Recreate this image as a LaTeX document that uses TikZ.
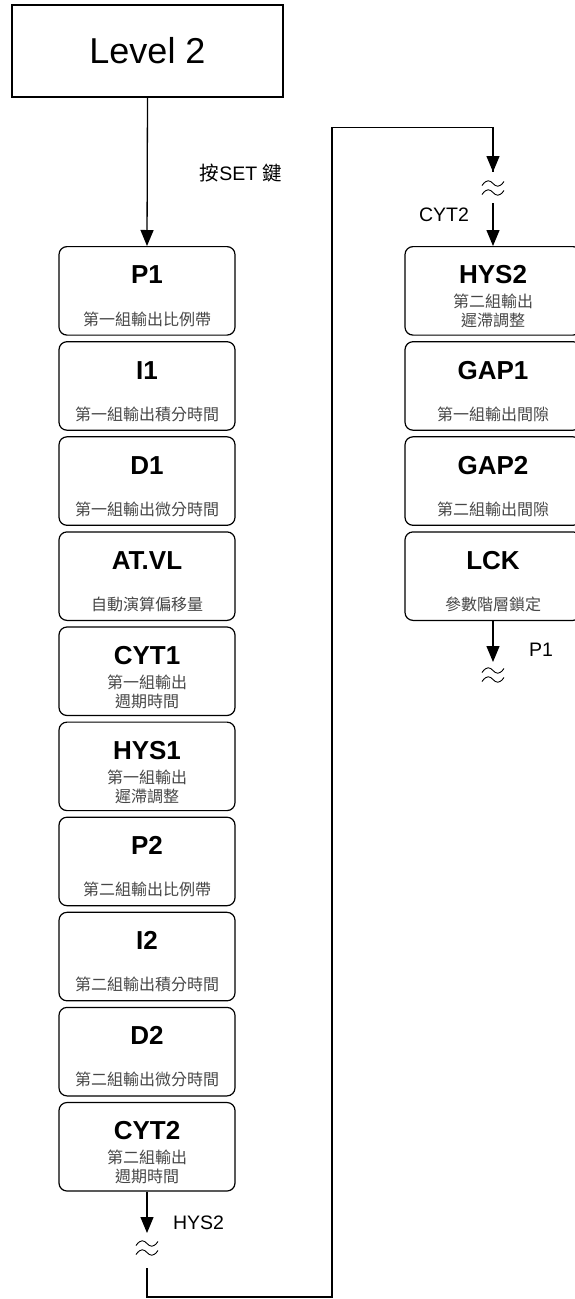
\documentclass[tikz,border=0pt]{standalone}
\usepackage{fontspec}
\setmainfont{Liberation Sans}
\newfontfamily\cjk{Noto Sans CJK TC}
\usetikzlibrary{arrows.meta}
\definecolor{subgray}{RGB}{70,70,70}
\tikzset{
  box/.style={draw, rounded corners=8pt, line width=1.2pt, minimum width=176pt, minimum height=88.5pt, anchor=north, inner sep=0pt},
  ttl/.style={font=\fontsize{26}{28}\selectfont\bfseries, inner sep=0pt},
  subtxt/.style={font=\cjk\fontsize{16}{19}\selectfont, text=subgray, align=center, inner sep=0pt},
  arr/.style={line width=1.3pt, -{Triangle[width=13pt,length=16pt]}},
  ln/.style={line width=1.3pt},
  lbl/.style={font=\fontsize{19.5}{24}\selectfont, inner sep=0pt},
  wave/.pic={
    \draw[line width=0.9pt] (-11,-2.5) .. controls (-6,-9.5) and (-3,-7.5) .. (0,-4.5) .. controls (3,-1.5) and (6,0.5) .. (11,-6.5);
    \draw[line width=0.9pt] (-11,6.5) .. controls (-6,-0.5) and (-3,1.5) .. (0,4.5) .. controls (3,7.5) and (6,9.5) .. (11,2.5);
  }
}
\begin{document}
\begin{tikzpicture}[x=1pt,y=-1pt]
\useasboundingbox (0,0) rectangle (574,1299);

% Level 2
\node[draw, line width=1.2pt, minimum width=271pt, minimum height=92pt, font=\fontsize{36}{40}\selectfont, inner sep=0pt] (lv) at (147.5,51) {Level 2};
\node[lbl] (setlbl) at (241,173) {{\cjk 按}SET {\cjk 鍵}};

% left column
\node[box] (p1) at (147,246) {};
\node[ttl] (p1t) at ([yshift=-29pt]p1.north) {P1};
\node[subtxt] (p1s) at ([yshift=-73pt]p1.north) {第一組輸出比例帶};

\node[box] (i1) at (147,341.1) {};
\node[ttl] (i1t) at ([yshift=-29pt]i1.north) {I1};
\node[subtxt] (i1s) at ([yshift=-73pt]i1.north) {第一組輸出積分時間};

\node[box] (d1) at (147,436.2) {};
\node[ttl] (d1t) at ([yshift=-29pt]d1.north) {D1};
\node[subtxt] (d1s) at ([yshift=-73pt]d1.north) {第一組輸出微分時間};

\node[box] (atvl) at (147,531.3) {};
\node[ttl] (atvlt) at ([yshift=-29pt]atvl.north) {AT.VL};
\node[subtxt] (atvls) at ([yshift=-73pt]atvl.north) {自動演算偏移量};

\node[box] (cyt1) at (147,626.4) {};
\node[ttl] (cyt1t) at ([yshift=-29pt]cyt1.north) {CYT1};
\node[subtxt] (cyt1s) at ([yshift=-65pt]cyt1.north) {第一組輸出\\週期時間};

\node[box] (hys1) at (147,721.5) {};
\node[ttl] (hys1t) at ([yshift=-29pt]hys1.north) {HYS1};
\node[subtxt] (hys1s) at ([yshift=-65pt]hys1.north) {第一組輸出\\遲滯調整};

\node[box] (p2) at (147,816.6) {};
\node[ttl] (p2t) at ([yshift=-29pt]p2.north) {P2};
\node[subtxt] (p2s) at ([yshift=-73pt]p2.north) {第二組輸出比例帶};

\node[box] (i2) at (147,911.7) {};
\node[ttl] (i2t) at ([yshift=-29pt]i2.north) {I2};
\node[subtxt] (i2s) at ([yshift=-73pt]i2.north) {第二組輸出積分時間};

\node[box] (d2) at (147,1006.8) {};
\node[ttl] (d2t) at ([yshift=-29pt]d2.north) {D2};
\node[subtxt] (d2s) at ([yshift=-73pt]d2.north) {第二組輸出微分時間};

\node[box] (cyt2) at (147,1101.9) {};
\node[ttl] (cyt2t) at ([yshift=-29pt]cyt2.north) {CYT2};
\node[subtxt] (cyt2s) at ([yshift=-65pt]cyt2.north) {第二組輸出\\週期時間};

% right column
\node[box] (hys2) at (493,246) {};
\node[ttl] (hys2t) at ([yshift=-29pt]hys2.north) {HYS2};
\node[subtxt] (hys2s) at ([yshift=-65pt]hys2.north) {第二組輸出\\遲滯調整};

\node[box] (gap1) at (493,341.1) {};
\node[ttl] (gap1t) at ([yshift=-29pt]gap1.north) {GAP1};
\node[subtxt] (gap1s) at ([yshift=-73pt]gap1.north) {第一組輸出間隙};

\node[box] (gap2) at (493,436.2) {};
\node[ttl] (gap2t) at ([yshift=-29pt]gap2.north) {GAP2};
\node[subtxt] (gap2s) at ([yshift=-73pt]gap2.north) {第二組輸出間隙};

\node[box] (lck) at (493,531.3) {};
\node[ttl] (lckt) at ([yshift=-29pt]lck.north) {LCK};
\node[subtxt] (lcks) at ([yshift=-73pt]lck.north) {參數階層鎖定};

% connectors
\draw[arr] (lv.south) -- (p1.north);

\coordinate (w1a) at (147,1233);
\coordinate (w1b) at (147,1268);
\coordinate (c1) at (332,1297);
\coordinate (c2) at (332,127.5);
\coordinate (w2a) at (493,172);
\coordinate (w2b) at (493,203);
\coordinate (w3a) at (493,662);

\draw[arr] (cyt2.south) -- (w1a);
\pic at (147,1248) {wave};
\draw[ln] (w1b) |- (c1) -- (c2) -| (w2a);
\draw[arr] (c2 -| w2a) -- (w2a);
\pic at (493,188) {wave};
\draw[arr] (w2b) -- (hys2.north);
\draw[arr] (lck.south) -- (w3a);
\pic at (493,675) {wave};

\node[lbl] (hyslbl) at (198.5,1223) {HYS2};
\node[lbl] (cytlbl) at (444,215) {CYT2};
\node[lbl] (p1lbl) at (541,650) {P1};
\end{tikzpicture}
\end{document}
